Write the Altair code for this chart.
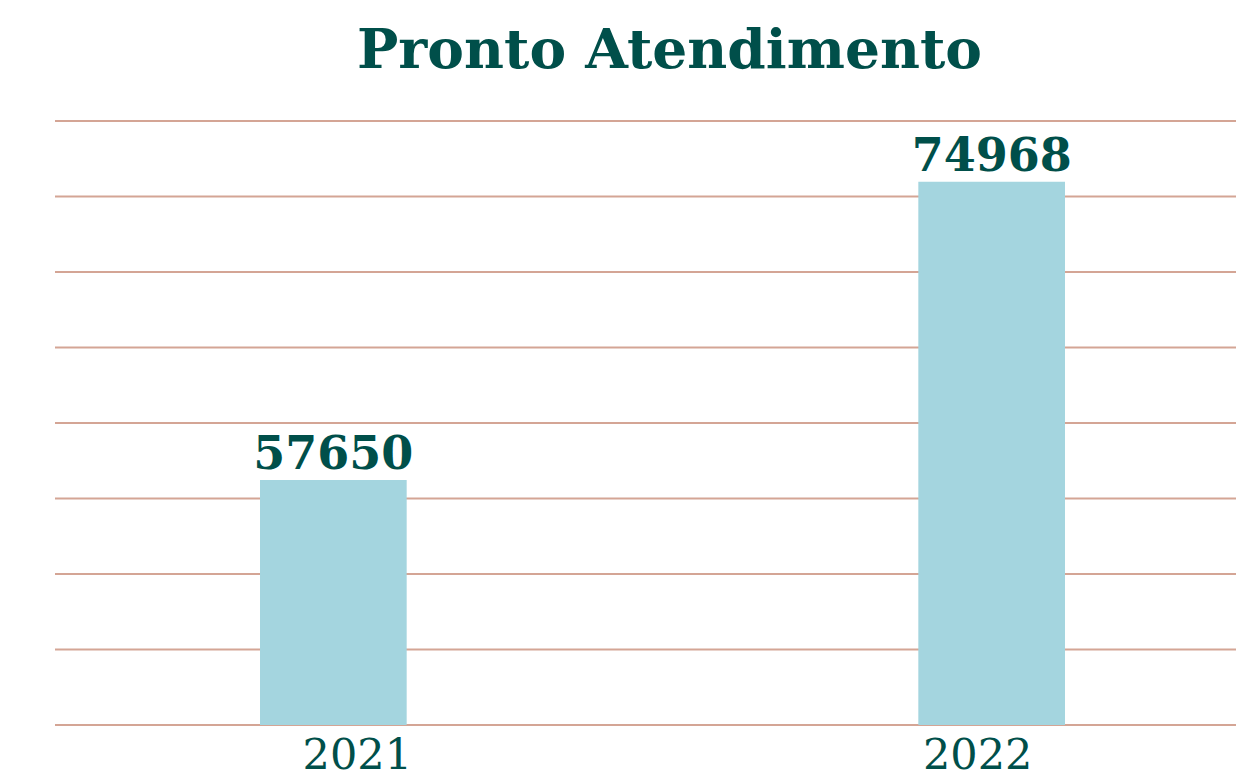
import altair as alt
import pandas as pd

years = ["2021", "2022"]
values = [57650, 74968]
grid_values = [0, 10000, 20000, 30000, 40000, 50000, 60000, 70000, 80000]

TEAL = "#004f4a"
BAR = "#a4d5df"
GRID = "#d4a595"

df = pd.DataFrame({"ano": years, "valor": values})
grid_df = pd.DataFrame({"g": grid_values})

xscale = alt.Scale(range=[0, 1215], paddingInner=0.7772, paddingOuter=0.3114, round=False)
yscale = alt.Scale(domain=[43426, 78494], zero=False, nice=False)

grid = alt.Chart(grid_df).mark_rule(color=GRID, strokeWidth=2).encode(
    y=alt.Y("g:Q", scale=alt.Scale(domain=[0, 80000], nice=False), axis=None)
)

bars = alt.Chart(df).mark_bar(color=BAR, clip=True).encode(
    x=alt.X("ano:N", scale=xscale, sort=years,
            axis=alt.Axis(title=None, domain=False, ticks=False, grid=False,
                          labelAngle=0, labelFont="DejaVu Serif", labelFontSize=43,
                          labelColor=TEAL, labelPadding=9,
                          labelOffset={"condition": {"test": "datum.label == '2021'", "value": 24}, "value": -14})),
    y=alt.Y("valor:Q", scale=yscale, axis=None),
)

labels = alt.Chart(df).mark_text(font="DejaVu Serif", fontWeight="bold", fontSize=46,
                                 color=TEAL, baseline="alphabetic", dy=-11).encode(
    x=alt.X("ano:N", scale=xscale, sort=years),
    y=alt.Y("valor:Q", scale=yscale, axis=None),
    text=alt.Text("valor:Q", format="d"),
)

chart = alt.layer(grid, bars, labels).resolve_scale(y="independent").properties(
    width=1181,
    height=604,
    background="white",
    autosize=alt.AutoSizeParams(type="none"),
    padding={"left": 47, "top": 113, "right": 0, "bottom": 46},
    title=alt.TitleParams("Pronto Atendimento", font="DejaVu Serif", fontSize=55,
                          fontWeight="bold", color=TEAL, anchor="middle", dx=24,
                          offset=-3, baseline="alphabetic"),
).configure_view(stroke=None)

chart.save("out.html", embed_options={"renderer": "svg", "actions": False})
